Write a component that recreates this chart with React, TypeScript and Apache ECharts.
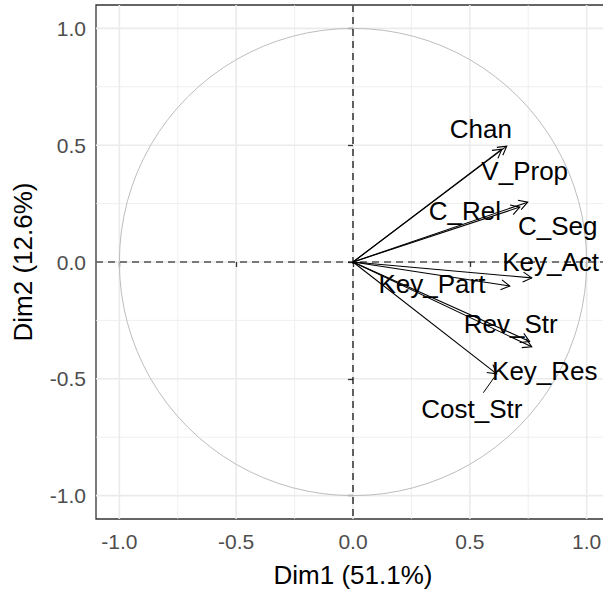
import React, { useEffect, useRef } from "react";
import * as echarts from "echarts";

// Variables of the PCA correlation circle
const varNames = ["Chan", "V_Prop", "C_Rel", "C_Seg", "Key_Act", "Key_Part", "Rev_Str", "Key_Res", "Cost_Str"];
const dim1 = [0.658, 0.637, 0.714, 0.748, 0.765, 0.671, 0.756, 0.765, 0.615];
const dim2 = [0.496, 0.483, 0.235, 0.256, -0.068, -0.103, -0.34, -0.363, -0.479];
// repelled label positions (data units)
const labelX = [0.547, 0.735, 0.479, 0.876, 0.846, 0.338, 0.675, 0.821, 0.509];
const labelY = [0.568, 0.389, 0.218, 0.154, 0.0, -0.094, -0.265, -0.466, -0.628];
const labelSegment = [0, 0, 0, 0, 0, 0, 0, 0, 1];

const tickValues = [-1, -0.5, 0, 0.5, 1];
const majorGrid = [-1, -0.5, 0, 0.5, 1];
const minorGrid = [-0.75, -0.25, 0.25, 0.75];
const axisMin = -1.1;
const axisMax = 1.1;
const xTitle = "Dim1 (51.1%)";
const yTitle = "Dim2 (12.6%)";

const FONT = "Liberation Sans, Arial, sans-serif";

export default function App() {
  const ref = useRef<HTMLDivElement>(null);
  useEffect(() => {
    if (!ref.current) return;
    const chart = echarts.init(ref.current, undefined, { renderer: "svg" });

    const gridData = [
      ...minorGrid.map((v) => [v, 0]),
      ...majorGrid.map((v) => [v, 1]),
    ];

    const option: any = {
      animation: false,
      grid: {
        left: 96,
        width: 514,
        top: 5,
        height: 514,
        show: true,
        borderColor: "#333333",
        borderWidth: 1.3,
        backgroundColor: "transparent",
        containLabel: false,
        outerBoundsMode: "none",
      },
      xAxis: {
        type: "value",
        min: axisMin,
        max: axisMax,
        name: xTitle,
        nameLocation: "middle",
        nameGap: 43,
        nameTextStyle: { fontSize: 26, color: "#000", fontFamily: FONT },
        axisLine: { show: false },
        axisTick: { show: true, customValues: tickValues, length: 5, lineStyle: { color: "#333333", width: 1.3 } },
        axisLabel: {
          customValues: tickValues,
          formatter: (v: number) => v.toFixed(1),
          color: "#4d4d4d",
          fontSize: 21,
          fontFamily: FONT,
          margin: 12,
        },
        splitLine: { show: false },
      },
      yAxis: {
        type: "value",
        min: axisMin,
        max: axisMax,
        name: yTitle,
        nameLocation: "middle",
        nameGap: 60,
        nameRotate: 90,
        nameTextStyle: { fontSize: 26, color: "#000", fontFamily: FONT },
        axisLine: { show: false },
        axisTick: { show: true, customValues: tickValues, length: 5, lineStyle: { color: "#333333", width: 1.3 } },
        axisLabel: {
          customValues: tickValues,
          formatter: (v: number) => v.toFixed(1),
          color: "#4d4d4d",
          fontSize: 21,
          fontFamily: FONT,
          margin: 10,
        },
        splitLine: { show: false },
      },
      series: [
        {
          // panel grid lines
          type: "custom",
          coordinateSystem: "cartesian2d",
          silent: true,
          z: 0,
          data: gridData,
          renderItem: (params: any, api: any) => {
            const cs = params.coordSys;
            const v = api.value(0);
            const major = api.value(1) === 1;
            const px = api.coord([v, 0])[0];
            const py = api.coord([0, v])[1];
            const style = { stroke: "#ebebeb", lineWidth: major ? 1.6 : 0.8 };
            return {
              type: "group",
              children: [
                { type: "line", shape: { x1: px, y1: cs.y, x2: px, y2: cs.y + cs.height }, style },
                { type: "line", shape: { x1: cs.x, y1: py, x2: cs.x + cs.width, y2: py }, style },
              ],
            };
          },
        },
        {
          // unit circle and dashed zero lines
          type: "custom",
          coordinateSystem: "cartesian2d",
          silent: true,
          z: 1,
          data: [[0, 0, 1]],
          renderItem: (params: any, api: any) => {
            const cs = params.coordSys;
            const c = api.coord([api.value(0), api.value(1)]);
            const s = api.size([api.value(2), api.value(2)]);
            return {
              type: "group",
              children: [
                {
                  type: "circle",
                  shape: { cx: c[0], cy: c[1], r: s[0] },
                  style: { stroke: "#bdbdbd", fill: "none", lineWidth: 1 },
                },
                {
                  type: "line",
                  shape: { x1: c[0], y1: cs.y, x2: c[0], y2: cs.y + cs.height },
                  style: { stroke: "#000", lineWidth: 1.2, lineDash: [7, 5] },
                },
                {
                  type: "line",
                  shape: { x1: cs.x, y1: c[1], x2: cs.x + cs.width, y2: c[1] },
                  style: { stroke: "#000", lineWidth: 1.2, lineDash: [7, 5] },
                },
              ],
            };
          },
        },
        {
          // arrows
          type: "custom",
          coordinateSystem: "cartesian2d",
          silent: true,
          z: 2,
          data: varNames.map((n, i) => ({ name: n, value: [dim1[i], dim2[i]] })),
          renderItem: (params: any, api: any) => {
            const o = api.coord([0, 0]);
            const p = api.coord([api.value(0), api.value(1)]);
            const ang = Math.atan2(p[1] - o[1], p[0] - o[0]);
            const L = 10;
            const a = Math.PI / 6;
            const h1 = [p[0] - L * Math.cos(ang - a), p[1] - L * Math.sin(ang - a)];
            const h2 = [p[0] - L * Math.cos(ang + a), p[1] - L * Math.sin(ang + a)];
            return {
              type: "group",
              children: [
                { type: "line", shape: { x1: o[0], y1: o[1], x2: p[0], y2: p[1] }, style: { stroke: "#000", lineWidth: 1.1 } },
                { type: "polyline", shape: { points: [h1, p, h2] }, style: { stroke: "#000", fill: "none", lineWidth: 1.1 } },
              ],
            };
          },
        },
        {
          // labels (with repel segment)
          type: "custom",
          coordinateSystem: "cartesian2d",
          silent: true,
          z: 3,
          data: varNames.map((n, i) => ({ name: n, value: [labelX[i], labelY[i], dim1[i], dim2[i], labelSegment[i]] })),
          renderItem: (params: any, api: any) => {
            const i = params.dataIndex;
            const lp = api.coord([api.value(0), api.value(1)]);
            const tp = api.coord([api.value(2), api.value(3)]);
            const children: any[] = [];
            if (api.value(4) === 1) {
              const dx = tp[0] - lp[0];
              const dy = tp[1] - lp[1];
              const len = Math.sqrt(dx * dx + dy * dy);
              const ux = dx / len;
              const uy = dy / len;
              const tStart = 16 / Math.abs(uy);
              children.push({
                type: "line",
                shape: { x1: lp[0] + ux * tStart, y1: lp[1] + uy * tStart, x2: tp[0] - ux * 4, y2: tp[1] - uy * 4 },
                style: { stroke: "#000", lineWidth: 1 },
              });
            }
            children.push({
              type: "text",
              style: {
                text: varNames[i],
                x: lp[0],
                y: lp[1],
                fill: "#000",
                fontSize: 26,
                fontFamily: FONT,
                textAlign: "center",
                textVerticalAlign: "middle",
              },
            });
            return { type: "group", children };
          },
        },
      ],
    };
    chart.setOption(option);
    return () => chart.dispose();
  }, []);

  return (
    <div style={{ position: "fixed", left: 0, top: 0, width: 603, height: 592, overflow: "hidden", background: "#fff" }}>
      <div ref={ref} style={{ width: 603, height: 592 }} />
    </div>
  );
}
